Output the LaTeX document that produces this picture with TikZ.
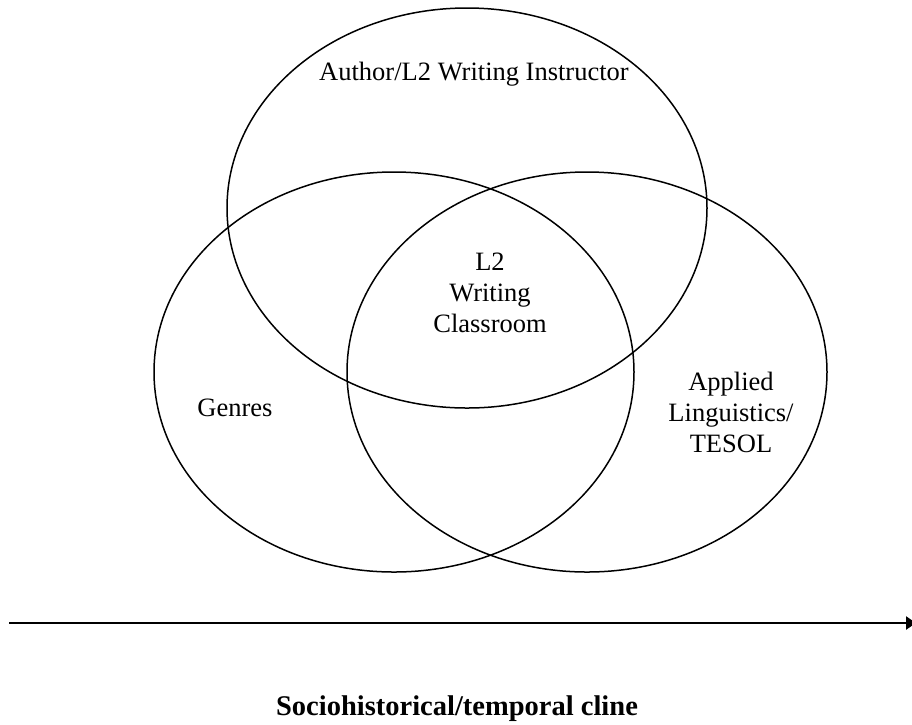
\documentclass[tikz,border=0pt]{standalone}
\usepackage{fontspec}
\setmainfont{Liberation Serif}
\usetikzlibrary{shapes.geometric,arrows.meta}
\begin{document}
\begin{tikzpicture}[x=1pt,y=-1pt,
  circ/.style={draw,ellipse,line width=1.5pt,minimum width=480pt,minimum height=400pt,inner sep=0pt},
  lbl/.style={font=\fontsize{26.5}{31}\selectfont,align=center,inner sep=0pt,anchor=base},
]
\useasboundingbox (0,0) rectangle (912,724);
\node[circ] (instr) at (467,208) {};
\node[circ] (gen) at (394,372) {};
\node[circ] (tes) at (587,372) {};
\node[lbl] (t1) at (474,80) {Author/L2 Writing Instructor};
\node[lbl] (t2) at (490,332) {L2\\Writing\\Classroom};
\node[lbl] (t3) at (235,416) {Genres};
\node[lbl] (t4) at (731,452) {Applied\\Linguistics/\\TESOL};
\coordinate (a0) at (9,623);
\coordinate (a1) at (916,623);
\draw[line width=2.4pt,-{Triangle[length=10pt,width=13pt]}] (a0) -- (a1);
\node[lbl,font=\bfseries\fontsize{28.5}{33}\selectfont] (cline) at (457,715) {Sociohistorical/temporal cline};
\end{tikzpicture}
\end{document}
